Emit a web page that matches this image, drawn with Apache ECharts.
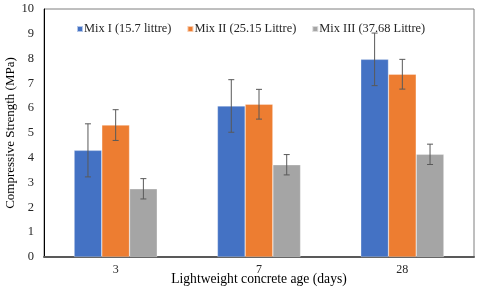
<!DOCTYPE html>
<html><head><meta charset="utf-8">
<script src="https://cdn.jsdelivr.net/npm/echarts@6/dist/echarts.min.js"></script>
<style>html,body{margin:0;padding:0;background:#fff}#c{width:480px;height:291px}</style>
</head><body><div id="c"></div>
<script>
const categories = ['3', '7', '28'];
const seriesNames = ['Mix I (15.7 littre)', 'Mix II (25.15 Littre)', 'Mix III (37.68 Littre)'];
const mix1 = [4.3, 6.09, 7.97];
const mix2 = [5.32, 6.16, 7.37];
const mix3 = [2.75, 3.72, 4.14];
const err1 = [1.07, 1.06, 1.06];
const err2 = [0.62, 0.6, 0.6];
const err3 = [0.41, 0.41, 0.41];
const colors = ['#4472C4', '#ED7D31', '#A5A5A5'];
const FONT = '"Liberation Serif", "Times New Roman", serif';
const catGap = 0.42;

const values = [mix1, mix2, mix3];
const errs = [err1, err2, err3];

function errSeries(k) {
  return {
    type: 'custom',
    name: seriesNames[k] + ' err',
    z: 10,
    silent: true,
    data: categories.map((c, i) => [i, values[k][i] - errs[k][i], values[k][i] + errs[k][i]]),
    encode: { x: 0, y: [1, 2] },
    renderItem: function (params, api) {
      const i = api.value(0);
      const lo = api.coord([i, api.value(1)]);
      const hi = api.coord([i, api.value(2)]);
      const band = api.size([1, 0])[0];
      const bw = band * (1 - catGap) / 3;
      const x = lo[0] + (k - 1) * bw;
      const cap = 3;
      const style = { stroke: '#595959', lineWidth: 1 };
      return { type: 'group', children: [
        { type: 'line', shape: { x1: x, y1: hi[1], x2: x, y2: lo[1] }, style },
        { type: 'line', shape: { x1: x - cap, y1: hi[1], x2: x + cap, y2: hi[1] }, style },
        { type: 'line', shape: { x1: x - cap, y1: lo[1], x2: x + cap, y2: lo[1] }, style }
      ]};
    }
  };
}

const chart = echarts.init(document.getElementById('c'), null, { renderer: 'canvas' });
chart.setOption({
  animation: false,
  textStyle: { fontFamily: FONT },
  grid: { left: 44, right: 6, top: 9, bottom: 34, show: true, borderColor: '#7f7f7f', borderWidth: 1,
          containLabel: false, outerBoundsMode: 'none' },
  legend: {
    data: seriesNames,
    top: 20, left: 76, padding: 0,
    itemWidth: 6, itemHeight: 6, itemGap: 15,
    icon: 'rect',
    textStyle: { fontFamily: FONT, fontSize: 12.4, color: '#262626', padding: [0, 0, 0, -4] }
  },
  xAxis: {
    type: 'category',
    data: categories,
    name: 'Lightweight concrete age (days)',
    nameLocation: 'middle', nameGap: 15, nameMoveOverlap: false,
    nameTextStyle: { fontFamily: FONT, fontSize: 13.6, color: '#000' },
    axisLine: { lineStyle: { color: '#595959', width: 2 } },
    axisTick: { show: false },
    axisLabel: { fontFamily: FONT, fontSize: 12, color: '#262626', margin: 7 }
  },
  yAxis: {
    type: 'value',
    min: 0, max: 10, interval: 1,
    name: 'Compressive Strength (MPa)',
    nameLocation: 'middle', nameGap: 27, nameMoveOverlap: false,
    nameTextStyle: { fontFamily: FONT, fontSize: 13, color: '#000' },
    axisLine: { show: true, lineStyle: { color: '#000', width: 1 } },
    axisTick: { show: false },
    splitLine: { show: false },
    axisLabel: { fontFamily: FONT, fontSize: 12.5, color: '#262626', margin: 10 }
  },
  series: [
    ...values.map((v, k) => ({
      type: 'bar', name: seriesNames[k], data: v,
      barGap: '0%', barCategoryGap: (catGap * 100) + '%',
      itemStyle: { color: colors[k], borderColor: 'rgba(255,255,255,0.6)', borderWidth: 0.5 }
    })),
    ...values.map((v, k) => errSeries(k))
  ]
});
chart.setOption({ legend: { top: 23 } });
</script></body></html>
